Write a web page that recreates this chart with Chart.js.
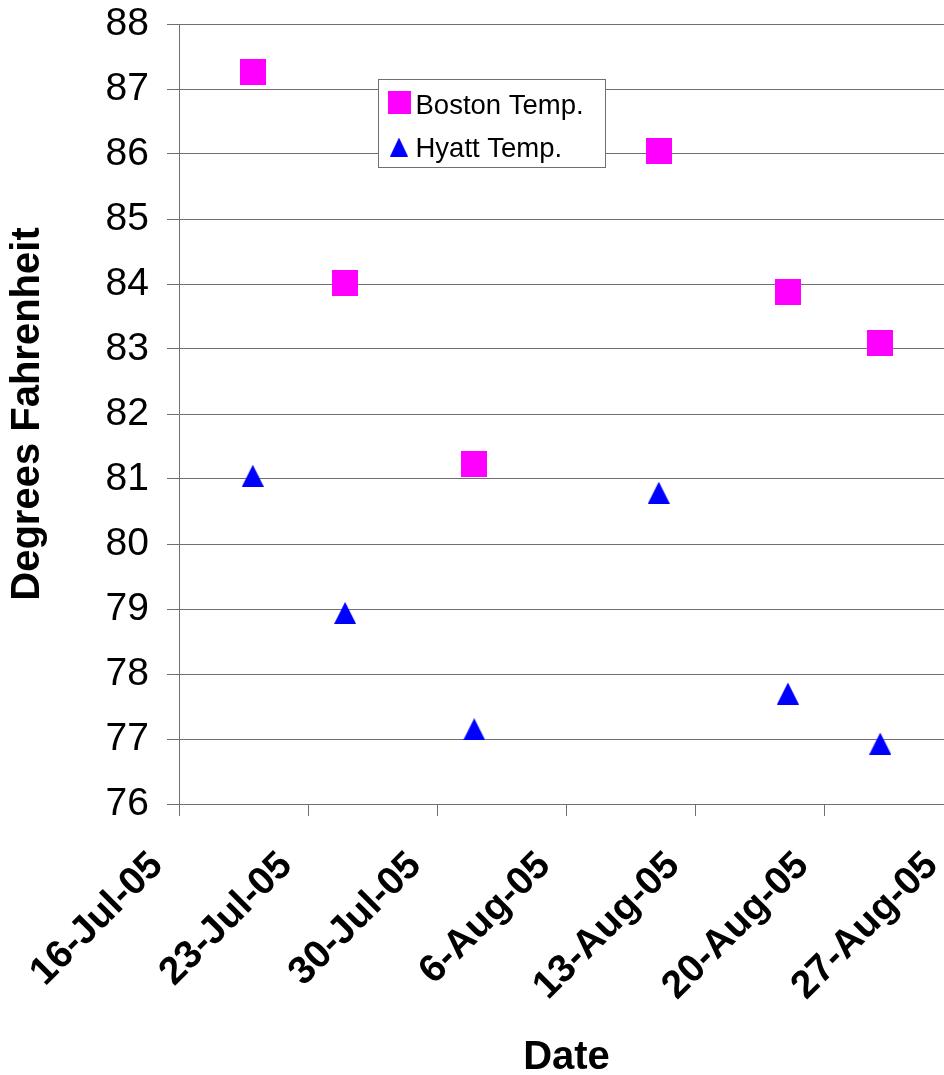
<!DOCTYPE html>
<html>
<head>
<meta charset="utf-8">
<script src="https://cdn.jsdelivr.net/npm/chart.js@4/dist/chart.umd.min.js"></script>
<style>
    html, body { margin: 0; padding: 0; background: #fff; overflow: hidden; }
    #wrap { width: 960px; height: 1075px; }
</style>
</head>
<body>
<div id="wrap"><canvas id="chart" width="960" height="1075"></canvas></div>
<script>
// data
var startDate = '2005-07-16';
var sampleDates = ['2005-07-20', '2005-07-25', '2005-08-01', '2005-08-11', '2005-08-18', '2005-08-23'];
var bostonTemps = [87.26, 84.02, 81.23, 86.04, 83.88, 83.10];
var hyattTemps = [81.05, 78.94, 77.15, 80.79, 77.70, 76.93];
var dateTicks = ['16-Jul-05', '23-Jul-05', '30-Jul-05', '6-Aug-05', '13-Aug-05', '20-Aug-05', '27-Aug-05'];

var FONT = "'Liberation Sans', Arial, sans-serif",
    LINE = '#707070';

function dayOf(s) {
    return Math.round((Date.parse(s) - Date.parse(startDate)) / 86400000);
}

function points(values) {
    return values.map(function(v, i) {
        return { x: dayOf(sampleDates[i]), y: v };
    });
}

function marker(kind, color, w, h) {
    var c = document.createElement('canvas'),
        ctx = c.getContext('2d');
    c.width = w;
    c.height = h;
    ctx.fillStyle = color;
    if (kind == 'square') {
        ctx.fillRect(0, 0, w, h);
    } else {
        ctx.beginPath();
        ctx.moveTo(w / 2, 0);
        ctx.lineTo(w, h);
        ctx.lineTo(0, h);
        ctx.closePath();
        ctx.fill();
    }
    return c;
}

// keep the plot box where the layout padding puts it
function noPad(s) {
    s.paddingTop = 0;
    s.paddingBottom = 0;
    s.paddingLeft = 0;
    s.paddingRight = 0;
}

var bostonMark = marker('square', '#ff00ff', 26, 26),
    hyattMark = marker('triangle', '#0000ff', 22, 22);

// legend box drawn inside the plot, like the original
var boxLegend = {
    id: 'boxLegend',
    afterDraw: function(chart) {
        var ctx = chart.ctx,
            a = chart.chartArea,
            x = Math.round(a.left) + 199.5,
            y = Math.round(a.top) + 55.5,
            items = [
                { img: marker('square', '#ff00ff', 23, 23), label: chart.data.datasets[0].label, base: 34 },
                { img: marker('triangle', '#0000ff', 18, 19), label: chart.data.datasets[1].label, base: 77 }
            ];
        ctx.save();
        ctx.fillStyle = '#fff';
        ctx.strokeStyle = LINE;
        ctx.lineWidth = 1;
        ctx.fillRect(x, y, 227, 88);
        ctx.strokeRect(x, y, 227, 88);
        ctx.fillStyle = '#000';
        ctx.font = '27.5px ' + FONT;
        ctx.textBaseline = 'alphabetic';
        items.forEach(function(it) {
            ctx.drawImage(it.img, x + 9 + (23 - it.img.width) / 2, y + it.base - it.img.height);
            ctx.fillText(it.label, x + 37, y + it.base);
        });
        ctx.restore();
    }
};

var chart = new Chart(document.getElementById('chart').getContext('2d'), {
    type: 'scatter',
    data: {
        datasets: [
            {
                label: 'Boston Temp.',
                data: points(bostonTemps),
                pointStyle: bostonMark,
                backgroundColor: '#ff00ff',
                borderColor: '#ff00ff'
            },
            {
                label: 'Hyatt Temp.',
                data: points(hyattTemps),
                pointStyle: hyattMark,
                backgroundColor: '#0000ff',
                borderColor: '#0000ff'
            }
        ]
    },
    options: {
        responsive: false,
        animation: false,
        layout: { padding: { top: 24, right: 6, left: 0, bottom: 0 } },
        plugins: {
            legend: { display: false },
            tooltip: { enabled: false }
        },
        scales: {
            x: {
                type: 'linear',
                min: 0,
                max: 42,
                afterFit: function(s) { s.height = 271; noPad(s); },
                grid: { drawOnChartArea: false, drawTicks: true, tickLength: 12, color: LINE },
                border: { display: false },
                ticks: {
                    stepSize: 7,
                    autoSkip: false,
                    maxRotation: 45,
                    minRotation: 45,
                    padding: 27,
                    labelOffset: -22,
                    color: '#000',
                    font: { family: FONT, size: 39, weight: 'bold' },
                    callback: function(v) { return dateTicks[v / 7]; }
                },
                title: {
                    display: true,
                    text: 'Date',
                    color: '#000',
                    font: { family: FONT, size: 40, weight: 'bold', lineHeight: 0.85 },
                    padding: { top: 0, bottom: 0 }
                }
            },
            y: {
                min: 76,
                max: 88,
                afterFit: function(s) { s.width = 179; noPad(s); },
                grid: { color: LINE, tickLength: 12 },
                border: { display: true, color: LINE },
                ticks: {
                    stepSize: 1,
                    padding: 18,
                    color: '#000',
                    font: { family: FONT, size: 39 }
                },
                title: {
                    display: true,
                    text: 'Degrees Fahrenheit',
                    color: '#000',
                    font: { family: FONT, size: 40, weight: 'bold', lineHeight: 1 },
                    padding: { top: 8, bottom: 0 }
                }
            }
        }
    },
    plugins: [boxLegend]
});
</script>
</body>
</html>
